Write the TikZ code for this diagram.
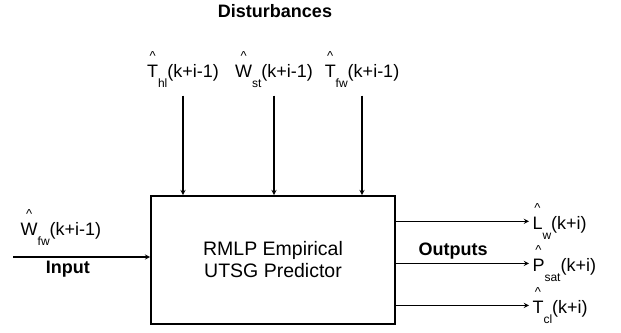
\documentclass[tikz,border=0pt]{standalone}
\usepackage{fontspec}
\setmainfont{Liberation Sans}
\newcommand{\est}[2]{\shortstack{\fontsize{13}{13}\selectfont\textasciicircum\\[1pt]#1}\raisebox{-10pt}{\fontsize{12}{14}\selectfont #2}}

\begin{document}
\begin{tikzpicture}[x=1pt,y=-1pt,every node/.style={font=\fontsize{18}{21}\selectfont},lbl/.style={font=\fontsize{18}{21}\selectfont\bfseries}]
			\useasboundingbox (0,0) rectangle (621,332);
			\node[draw,line width=1.8pt,minimum width=244pt,minimum height=128pt,align=center,font=\fontsize{19.5}{22}\selectfont] (pred) at (273,260) {RMLP Empirical\\UTSG Predictor};
			\node[lbl,anchor=base] (dist) at (275,17) {Disturbances};
			\node[anchor=base] (thl) at (183,77) {\est{T}{hl}(k+i-1)};
			\node[anchor=base] (wst) at (274,77) {\est{W}{st}(k+i-1)};
			\node[anchor=base] (tfw) at (362,77) {\est{T}{fw}(k+i-1)};
			\node[anchor=base west] (lw) at (529,229) {\est{L}{w}(k+i)};
			\node[anchor=base west] (psat) at (529,271) {\est{P}{sat}(k+i)};
			\node[anchor=base west] (tcl) at (529,313) {\est{T}{cl}(k+i)};
			\coordinate (u) at (13,257);
			\path[-stealth,line width=1.3pt]
			(thl) edge [shorten <=5pt] (thl |- pred.north)
			(wst) edge [shorten <=5pt] (wst |- pred.north)
			(tfw) edge [shorten <=5pt] (tfw |- pred.north)
			(u) edge node [above=8pt, pos=0.35] {\est{W}{fw}(k+i-1)} node [lbl, below, pos=0.4] {Input} (u -| pred.west)
			(pred.east |- lw.west) edge (lw.west)
			(pred.east |- psat.west) edge node [lbl, above, pos=0.43] {Outputs} (psat.west)
			(pred.east |- tcl.west) edge (tcl.west);
		\end{tikzpicture}
\end{document}
